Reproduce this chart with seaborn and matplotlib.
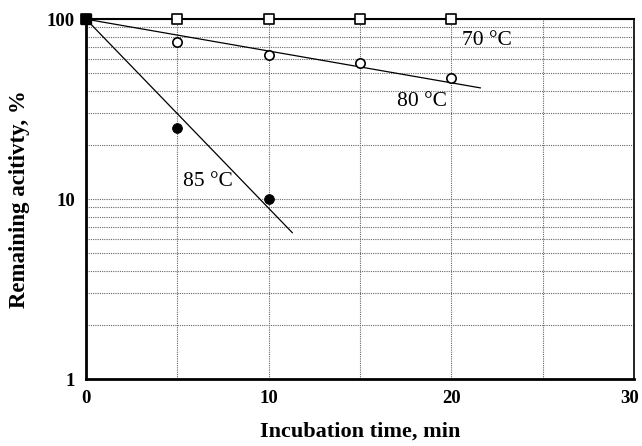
import numpy as np
import pandas as pd
import matplotlib
matplotlib.use("Agg")
import matplotlib.pyplot as plt
import matplotlib.transforms as mtrans
import seaborn as sns
from matplotlib.ticker import FixedLocator, NullFormatter

# data
t_70 = [0, 5, 10, 15, 20]
act_70 = [100, 100, 100, 100, 100]
t_80 = [0, 5, 10, 15, 20]
act_80 = [100, 74.5, 63, 57, 47]
t_85 = [0, 5, 10]
act_85 = [100, 25, 10]
# fitted lines (end points)
fit80_t = [0, 21.6]
fit80_y = [100, 41.5]
fit85_t = [0, 11.3]
fit85_y = [100, 6.5]

sns.set_style("ticks")
plt.rcParams['font.family'] = ['Liberation Serif', 'DejaVu Serif']
plt.rcParams['text.color'] = 'black'
plt.rcParams['axes.labelcolor'] = 'black'
plt.rcParams['xtick.color'] = 'black'
plt.rcParams['ytick.color'] = 'black'

fig = plt.figure(figsize=(6.42, 4.46), dpi=100)
ax = fig.add_axes([0.134, 0.150, 0.8535, 0.807])
ax.set_yscale("log")
ax.set_xlim(0, 30)
ax.set_ylim(1, 100)

# grid
ax.set_xticks([0, 10, 20, 30])
ax.xaxis.set_minor_locator(FixedLocator([5, 15, 25]))
ax.yaxis.set_major_locator(FixedLocator([1, 10, 100]))
ax.yaxis.set_minor_locator(FixedLocator([k * 10**d for d in (0, 1) for k in range(2, 10)]))
ax.yaxis.set_minor_formatter(NullFormatter())
ax.set_yticklabels(["1", "10", "100"])
ax.grid(True, which="both", axis="both", linestyle=(0, (1, 1)), color="#666666", linewidth=0.8)

sns.lineplot(x=fit80_t, y=fit80_y, ax=ax, color="black", linewidth=0.9)
sns.lineplot(x=fit85_t, y=fit85_y, ax=ax, color="black", linewidth=0.9)

sns.scatterplot(x=t_85, y=act_85, ax=ax, marker="o", color="black", s=50, edgecolor="black", zorder=5)
sns.scatterplot(x=t_80, y=act_80, ax=ax, marker="o", color="white", s=45, edgecolor="black", linewidth=1.2, zorder=5)
sns.scatterplot(x=t_70, y=act_70, ax=ax, marker="s", color="white", s=55, edgecolor="black", linewidth=1.2, zorder=6, clip_on=False)
ax.scatter([0], [100], marker="s", color="black", s=55, zorder=7, clip_on=False)

ax.text(20.6, 72, "70 °C", fontsize=15.5, color="black")
ax.text(17.0, 33, "80 °C", fontsize=15.5, color="black")
ax.text(5.3, 11.8, "85 °C", fontsize=15.5, color="black")

for s in ax.spines.values():
    s.set_color("black")
ax.spines["left"].set_linewidth(2)
ax.spines["bottom"].set_linewidth(2)
ax.spines["top"].set_linewidth(1.5)
ax.spines["right"].set_linewidth(1.2)

ax.tick_params(which="both", length=0, pad=8, labelsize=13.5, labelcolor="black")
for lab in ax.get_xticklabels() + ax.get_yticklabels():
    lab.set_fontweight("bold")
# keep the last x label inside the figure
last = ax.get_xticklabels()[-1]
last.set_transform(last.get_transform() + mtrans.ScaledTranslation(-4 / 100, 0, fig.dpi_scale_trans))

ax.set_xlabel("Incubation time, min", fontsize=16, fontweight="bold", labelpad=10, color="black")
ax.set_ylabel("Remaining acitivty, %", fontsize=16.5, fontweight="bold", labelpad=12, color="black")

fig.savefig("out.png", dpi=100)
